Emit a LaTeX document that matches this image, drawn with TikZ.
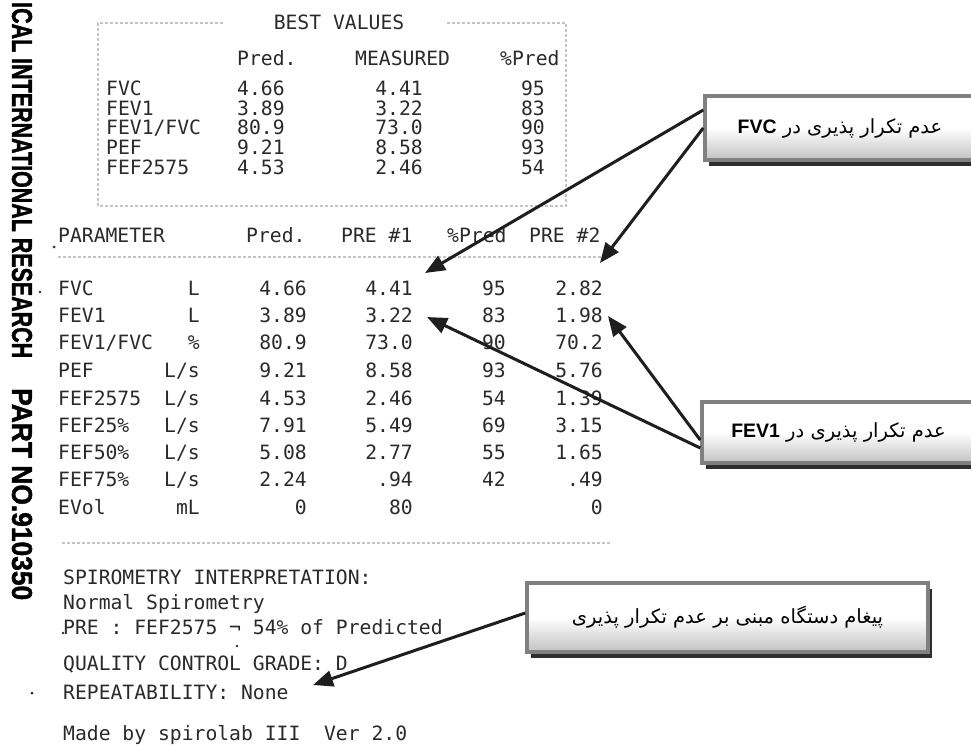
\documentclass[tikz,border=0pt]{standalone}
\usepackage{fontspec}
\usepackage{graphicx}
\usetikzlibrary{arrows.meta,shadows}
\TeXXeTstate=1
\newfontfamily\prt{DejaVu Sans Mono}
\newfontfamily\persfont[Script=Arabic]{DejaVu Sans}
\newfontfamily\latsans{Liberation Sans}
\newfontfamily\sidefont[FakeBold=1.5]{Liberation Sans Bold}
\definecolor{ink}{HTML}{2A2A2A}
\definecolor{rulec}{HTML}{C4C4C4}
\definecolor{framec}{HTML}{808080}
\definecolor{arrowc}{HTML}{1E1E1E}
\begin{document}
\begin{tikzpicture}[x=1pt,y=-1pt,
  prtl/.style={font=\prt\fontsize{19.7}{22}\selectfont, inner sep=0pt, text height=14.4pt, text depth=0pt, text=ink, anchor=west},
  prtr/.style={prtl, anchor=east},
  prtc/.style={prtl, anchor=center},
  rulel/.style={draw=rulec, line width=1.2pt, dash pattern=on 3pt off 2pt},
  callout/.style={draw=framec, line width=3.5pt, top color=white, bottom color=black!24, middle color=white,
    font=\persfont\fontsize{19.5}{22}\selectfont, text=black, inner sep=0pt,
    drop shadow={shadow xshift=4pt, shadow yshift=-6pt, fill=black!82, opacity=1}},
  arr/.style={draw=arrowc, line width=3pt, -{Triangle[length=20pt,width=16pt]}}
]
\useasboundingbox (0,0) rectangle (971,746);
\fill[white] (0,0) rectangle (971,746);
\clip (0,0) rectangle (971,746);

% side print
\node[rotate=-90, anchor=west, inner sep=0pt, text=black] (side1) at (22,2)
  {\resizebox{356pt}{20pt}{\sidefont ICAL INTERNATIONAL RESEARCH}};
\node[rotate=-90, anchor=west, inner sep=0pt, text=black] (side2) at (22,388)
  {\resizebox{212pt}{20pt}{\sidefont PART NO.910350}};

% specks
\fill[ink] (54,247) circle (1.5);
\fill[ink] (40,292) circle (1.3);
\fill[ink] (30,302) circle (1.2);
\fill[ink] (32,693) circle (1.5);
\fill[ink] (63,633) circle (1.3);
\fill[ink] (237,646) circle (1.3);

% best values box
\draw[rulel] (223,23) -- (98,23) -- (98,206) -- (566,206) -- (566,23) -- (447,23);
\node[prtc] (bvtitle) at (339,22) {BEST VALUES};
\node[prtl] (bvh1) at (237,58) {Pred.};
\node[prtl] (bvh2) at (355,58) {MEASURED};
\node[prtl] (bvh3) at (500,58) {\%Pred};
\foreach \yy/\lab/\pr/\me/\pc [count=\i] in {88/FVC/4.66/4.41/95, 108/FEV1/3.89/3.22/83, 127/{FEV1/FVC}/80.9/73.0/90, 147/PEF/9.21/8.58/93, 167/FEF2575/4.53/2.46/54}{
  \node[prtl] (bl\i) at (106,\yy) {\lab};
  \node[prtl] (bp\i) at (237,\yy) {\pr};
  \node[prtr] (bm\i) at (423,\yy) {\me};
  \node[prtr] (bc\i) at (545,\yy) {\pc};
}

% main table
\node[prtl] (mh0) at (58,235) {PARAMETER};
\node[prtl] (mh1) at (246,235) {Pred.};
\node[prtl] (mh2) at (341,235) {PRE \#1};
\node[prtl] (mh3) at (447,235) {\%Pred};
\node[prtl] (mh4) at (529,235) {PRE \#2};
\draw[rulel] (58,257) -- (610,257);
\foreach \yy/\lab/\un/\pr/\pa/\pc/\pb [count=\i] in {
  288/FVC/L/4.66/4.41/95/2.82,
  315/FEV1/L/3.89/3.22/83/1.98,
  342/{FEV1/FVC}/\%/80.9/73.0/90/70.2,
  370/PEF/{L/s}/9.21/8.58/93/5.76,
  398/FEF2575/{L/s}/4.53/2.46/54/1.39,
  425/FEF25\%/{L/s}/7.91/5.49/69/3.15,
  452/FEF50\%/{L/s}/5.08/2.77/55/1.65,
  479/FEF75\%/{L/s}/2.24/.94/42/.49,
  507/EVol/mL/0/80/{}/0}{
  \node[prtl] (ml\i) at (58,\yy) {\lab};
  \node[prtr] (mu\i) at (200,\yy) {\un};
  \node[prtr] (mp\i) at (307,\yy) {\pr};
  \node[prtr] (ma\i) at (413,\yy) {\pa};
  \node[prtr] (mc\i) at (506,\yy) {\pc};
  \node[prtr] (mb\i) at (603,\yy) {\pb};
}

% interpretation
\draw[rulel] (62,543) -- (612,543);
\node[prtl] (i1) at (63,577) {SPIROMETRY INTERPRETATION:};
\node[prtl] (i2) at (63,602) {Normal Spirometry};
\node[prtl] (i3) at (63,627) {PRE : FEF2575 ¬ 54\% of Predicted};
\node[prtl] (i4) at (63,663) {QUALITY CONTROL GRADE: D};
\node[prtl] (i5) at (63,692) {REPEATABILITY: None};
\node[prtl] (i6) at (63,733) {Made by spirolab III\ \ Ver 2.0};

% callout boxes
\node[callout, minimum width=270pt, minimum height=64pt] (fvcbox) at (840,128)
  {\beginR عدم تکرار پذیری در \beginL{\latsans\bfseries FVC}\endL\endR};
\node[callout, minimum width=273pt, minimum height=61pt] (fevbox) at (838.5,432.5)
  {\beginR عدم تکرار پذیری در \beginL{\latsans\bfseries FEV1}\endL\endR};
\node[callout, minimum width=401pt, minimum height=69pt] (msgbox) at (727.5,617.5)
  {\beginR پیغام دستگاه مبنی بر عدم تکرار پذیری\endR};

% arrow targets
\coordinate (t1) at (425,273);
\coordinate (t2) at (600,263);
\coordinate (t3) at (427,317);
\coordinate (t4) at (608,316);
\coordinate (t5) at (313,685);

\draw[arr] ([yshift=18pt]fvcbox.west) -- (t1);
\draw[arr] (fvcbox.west) -- (t2);
\draw[arr] ([yshift=-15.5pt]fevbox.west) -- (t3);
\draw[arr] ([yshift=-7.5pt]fevbox.west) -- (t4);
\draw[arr] ([yshift=4.5pt]msgbox.west) -- (t5);
\end{tikzpicture}
\end{document}
